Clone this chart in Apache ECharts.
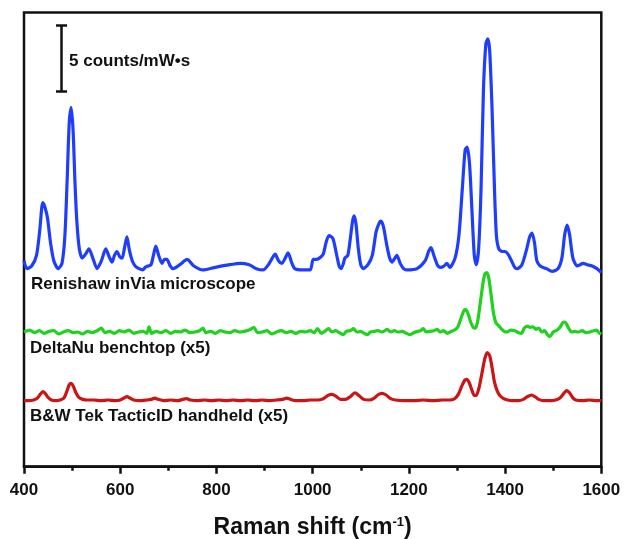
<!DOCTYPE html>
<html>
<head>
<meta charset="utf-8">
<script src="https://cdn.jsdelivr.net/npm/echarts@6/dist/echarts.min.js"></script>
<style>
html,body{margin:0;padding:0;background:#fff;}
#chart{width:624px;height:539px;}
</style>
</head>
<body>
<div id="chart"></div>
<script>
// x ticks
var xTicks = [400, 600, 800, 1000, 1200, 1400, 1600];

// Renishaw inVia microscope (counts/mW·s, offset)
var renishaw = [[400,15.6],[406,15.0],[416,15.2],[426,16.0],[433,18.0],[439,20.0],[444,19.6],[449,18.8],[455,17.0],[462,15.6],[471,15.0],[479,15.4],[485,17.5],[490,22],[494,26],[498,27.2],[502,25.5],[506,21.5],[510,18.5],[515,16.5],[521,15.8],[528,16.1],[535,16.5],[543,15.8],[552,15.0],[561,15.6],[570,16.5],[577,15.9],[583,15.5],[588,16.0],[593,16.3],[599,15.9],[604,15.8],[609,16.6],[614,17.4],[619,16.4],[625,15.6],[631,15.2],[639,15.0],[647,14.9],[652,15.1],[658,15.2],[664,15.3],[669,16.0],[674,16.7],[680,16.0],[687,15.4],[692,15.7],[697,15.7],[704,15.2],[710,15.0],[724,15.3],[739,15.7],[753,15.2],[772,14.9],[798,15.1],[828,15.3],[849,15.4],[868,15.3],[883,15.0],[897,14.9],[908,15.3],[916,15.8],[922,16.1],[929,15.6],[936,15.4],[943,15.8],[949,16.2],[956,15.5],[963,15.0],[980,14.9],[995,14.9],[1001,15.7],[1007,15.7],[1014,15.8],[1022,16.1],[1028,17.0],[1034,17.5],[1042,17.3],[1049,16.2],[1055,15.2],[1059,15.0],[1064,15.4],[1067,15.8],[1073,16.0],[1078,17.2],[1083,18.6],[1086,19.0],[1090,18.4],[1095,16.5],[1100,15.3],[1105,15.0],[1115,15.3],[1124,16.0],[1132,17.8],[1139,18.5],[1142,18.6],[1147,18.2],[1154,16.8],[1160,15.8],[1165,15.5],[1171,15.8],[1175,16.0],[1182,15.4],[1189,15.0],[1196,14.9],[1217,15.0],[1234,15.6],[1241,16.3],[1246,16.6],[1252,16.0],[1259,15.3],[1265,15.1],[1273,15.2],[1279,15.4],[1285,15.1],[1296,15.8],[1304,17.5],[1311,21.0],[1317,24.0],[1321,24.2],[1326,23.0],[1331,19.5],[1336,16.0],[1340,15.3],[1345,16.5],[1350,21],[1355,28.5],[1360,32.0],[1364,32.4],[1368,31.5],[1373,27],[1378,21],[1382,17.5],[1387,16.5],[1394,16.3],[1400,16.3],[1406,16.1],[1412,15.7],[1420,15.1],[1425,15.0],[1435,15.3],[1445,16.5],[1451,17.4],[1456,17.7],[1461,17.0],[1466,15.6],[1473,15.2],[1486,15.0],[1498,14.8],[1510,15.0],[1518,15.8],[1524,17.6],[1529,18.3],[1534,17.6],[1541,15.8],[1550,15.2],[1556,15.3],[1562,15.4],[1571,15.3],[1581,15.2],[1591,15.0],[1600,14.7]];

// DeltaNu benchtop (x5)
var deltaNu = [[400,10.2],[412,10.35],[422,10.15],[432,10.3],[442,10.1],[452,10.25],[462,10.3],[472,10.05],[482,10.2],[492,10.3],[502,10.15],[512,10.2],[522,10.05],[532,10.25],[542,10.15],[552,10.3],[561,10.5],[568,10.15],[578,10.25],[588,10.1],[598,10.3],[608,10.2],[618,10.35],[628,10.1],[638,10.2],[648,10.25],[655,10.1],[660,10.6],[665,10.1],[675,10.25],[685,10.15],[695,10.3],[705,10.1],[715,10.25],[725,10.2],[735,10.35],[745,10.15],[755,10.2],[765,10.3],[772,10.5],[778,10.15],[788,10.25],[798,10.1],[808,10.3],[818,10.2],[828,10.15],[838,10.3],[848,10.2],[858,10.25],[868,10.35],[878,10.55],[885,10.15],[895,10.2],[905,10.3],[915,10.05],[925,10.2],[935,10.3],[945,10.15],[955,10.25],[965,10.1],[975,10.25],[985,10.2],[995,10.3],[1003,10.15],[1010,10.45],[1018,10.1],[1025,10.25],[1033,10.45],[1040,10.2],[1048,10.3],[1056,10.15],[1064,10.0],[1070,10.25],[1078,10.3],[1085,10.45],[1092,10.2],[1100,10.25],[1107,10.1],[1114,10.0],[1120,10.2],[1128,10.25],[1136,10.3],[1144,10.2],[1150,10.3],[1155,10.4],[1162,10.2],[1170,10.3],[1178,10.2],[1186,10.25],[1195,10.1],[1203,10.0],[1210,10.15],[1218,10.25],[1224,10.3],[1230,10.45],[1236,10.2],[1244,10.25],[1252,10.3],[1259,10.4],[1265,10.2],[1272,10.3],[1280,10.1],[1288,10.25],[1295,10.35],[1302,10.6],[1308,11.2],[1314,11.8],[1318,11.9],[1323,11.6],[1329,10.9],[1334,10.55],[1338,10.5],[1343,11.0],[1348,12.3],[1354,13.9],[1358,14.6],[1362,14.7],[1366,14.3],[1371,13.0],[1376,11.6],[1381,10.9],[1386,10.7],[1392,10.45],[1398,10.25],[1404,10.2],[1412,10.35],[1420,10.3],[1428,10.15],[1434,10.1],[1440,10.5],[1446,10.65],[1452,10.55],[1458,10.6],[1464,10.4],[1470,10.5],[1476,10.2],[1482,10.3],[1488,10.0],[1493,9.85],[1500,10.2],[1508,10.35],[1515,10.6],[1521,10.95],[1526,10.9],[1532,10.5],[1538,10.2],[1545,10.25],[1552,10.2],[1560,10.3],[1568,10.15],[1576,10.2],[1584,10.3],[1590,10.35],[1595,10.15],[1600,10.05]];

// B&W Tek TacticID handheld (x5)
var tacticID = [[400,5.0],[410,5.0],[420,5.05],[428,5.2],[434,5.5],[439,5.68],[444,5.55],[450,5.25],[457,5.05],[465,5.0],[475,5.05],[483,5.2],[489,5.7],[494,6.2],[498,6.32],[503,6.05],[508,5.6],[514,5.25],[522,5.1],[532,5.05],[545,5.05],[560,5.0],[575,5.05],[590,5.0],[600,5.05],[608,5.2],[614,5.3],[620,5.2],[628,5.05],[640,5.0],[655,5.05],[665,5.1],[672,5.2],[679,5.1],[690,5.0],[705,5.05],[720,5.0],[730,5.1],[738,5.15],[746,5.05],[760,5.0],[775,5.05],[790,5.0],[805,5.05],[820,5.0],[835,5.05],[850,5.0],[865,5.05],[880,5.0],[895,5.05],[910,5.0],[925,5.05],[938,5.1],[946,5.2],[954,5.1],[965,5.0],[980,5.0],[995,5.05],[1010,5.05],[1022,5.15],[1032,5.4],[1040,5.48],[1048,5.35],[1058,5.1],[1068,5.1],[1078,5.3],[1088,5.6],[1096,5.4],[1106,5.1],[1118,5.05],[1128,5.2],[1136,5.45],[1144,5.56],[1152,5.45],[1162,5.15],[1172,5.05],[1190,5.0],[1210,5.0],[1230,5.05],[1250,5.0],[1270,5.05],[1285,5.05],[1295,5.15],[1303,5.5],[1310,6.1],[1316,6.55],[1320,6.62],[1325,6.4],[1331,5.8],[1336,5.4],[1340,5.4],[1346,6.0],[1352,7.1],[1358,8.2],[1363,8.64],[1368,8.4],[1373,7.5],[1378,6.4],[1384,5.7],[1390,5.35],[1397,5.15],[1405,5.05],[1415,5.0],[1428,5.0],[1438,5.1],[1446,5.3],[1455,5.43],[1462,5.3],[1470,5.1],[1480,5.0],[1495,5.0],[1505,5.05],[1514,5.2],[1521,5.5],[1528,5.76],[1534,5.6],[1540,5.25],[1547,5.05],[1560,5.0],[1575,5.05],[1590,5.0],[1600,5.0]];

// scale bar: 5 counts/mW·s
var scaleBarX = 478;
var scaleBarLow = 28.4;
var scaleBarHigh = 33.4;
var scaleBarCap = 11.5;

var seriesLabels = ['Renishaw inVia microscope', 'DeltaNu benchtop (x5)', 'B&W Tek TacticID handheld (x5)'];
var scaleLabel = '5 counts/mW\u2022s';

var FONT = '"Liberation Sans", Arial, sans-serif';
var chart = echarts.init(document.getElementById('chart'), null, {renderer: 'canvas'});

function lineSeries(name, data, color) {
  return {
    name: name, type: 'line', data: data, showSymbol: false, symbol: 'none',
    smooth: 0.25, lineStyle: {color: color, width: 3.2}, silent: true, animation: false, z: 3
  };
}

var blue = lineSeries(seriesLabels[0], renishaw, '#1f3dff');
blue.markLine = {
  silent: true, symbol: ['none', 'none'], animation: false,
  label: {show: false},
  lineStyle: {color: '#111', width: 2.5, type: 'solid'},
  data: [
    [{coord: [scaleBarX, scaleBarLow]}, {coord: [scaleBarX, scaleBarHigh]}],
    [{coord: [scaleBarX - scaleBarCap, scaleBarLow]}, {coord: [scaleBarX + scaleBarCap, scaleBarLow]}],
    [{coord: [scaleBarX - scaleBarCap, scaleBarHigh]}, {coord: [scaleBarX + scaleBarCap, scaleBarHigh]}]
  ]
};

var option = {
  animation: false,
  backgroundColor: '#fff',
  grid: {left: 24, right: 22.7, top: 12.5, bottom: 72.3, show: true, borderColor: '#111', borderWidth: 2.5,
    containLabel: false, outerBoundsMode: 'none'},
  xAxis: {
    type: 'value', min: xTicks[0], max: xTicks[xTicks.length - 1], interval: 200,
    axisLine: {show: true, onZero: false, lineStyle: {color: '#111', width: 2.5}},
    axisTick: {show: true, inside: false, length: 7, lineStyle: {color: '#111', width: 2.5}},
    minorTick: {show: true, splitNumber: 2, length: 4, lineStyle: {color: '#111', width: 2.5}},
    splitLine: {show: false},
    axisLabel: {color: '#111', fontFamily: FONT, fontWeight: 'bold', fontSize: 17, margin: 15,
      formatter: function (v) { return String(v); }},
    name: '{a|Raman shift (cm}{s|-1}{a|)}',
    nameLocation: 'middle', nameGap: 49,
    nameTextStyle: {
      rich: {
        a: {fontFamily: FONT, fontWeight: 'bold', fontSize: 23, color: '#111'},
        s: {fontFamily: FONT, fontWeight: 'bold', fontSize: 13, color: '#111', verticalAlign: 'top'}
      }
    }
  },
  yAxis: {type: 'value', min: 0, max: 34.4, show: false, splitLine: {show: false}},
  series: [
    blue,
    lineSeries(seriesLabels[1], deltaNu, '#1ed21e'),
    lineSeries(seriesLabels[2], tacticID, '#cc1414')
  ],
  graphic: [
    {type: 'text', x: 31, y: 284, silent: true, style: {text: seriesLabels[0], fill: '#111', font: 'bold 17px ' + FONT, verticalAlign: 'middle'}},
    {type: 'text', x: 30, y: 348, silent: true, style: {text: seriesLabels[1], fill: '#111', font: 'bold 17px ' + FONT, verticalAlign: 'middle'}},
    {type: 'text', x: 30, y: 416, silent: true, style: {text: seriesLabels[2], fill: '#111', font: 'bold 17px ' + FONT, verticalAlign: 'middle'}},
    {type: 'text', x: 69, y: 61, silent: true, style: {text: scaleLabel, fill: '#111', font: 'bold 17px ' + FONT, verticalAlign: 'middle'}}
  ]
};
chart.setOption(option);
</script>
</body>
</html>
